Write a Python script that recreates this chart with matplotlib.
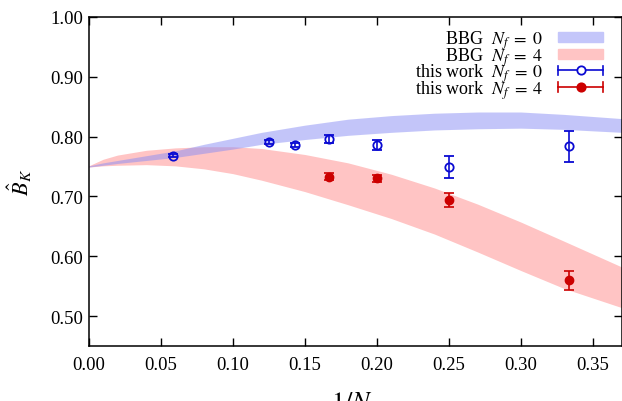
import matplotlib
matplotlib.use('Agg')
import matplotlib.pyplot as plt
from matplotlib.legend_handler import HandlerBase
from matplotlib.lines import Line2D
from matplotlib.patches import Patch

# BBG bands: x, lower, upper
band_x = [0.00, 0.01, 0.02, 0.04, 0.06, 0.08, 0.10, 0.12, 0.15, 0.18, 0.21, 0.24, 0.27, 0.30, 0.33, 0.37]
nf0_lo = [0.749, 0.752, 0.755, 0.760, 0.765, 0.772, 0.779, 0.787, 0.795, 0.802, 0.807, 0.811, 0.813, 0.814, 0.812, 0.807]
nf0_hi = [0.751, 0.756, 0.760, 0.768, 0.776, 0.787, 0.797, 0.807, 0.819, 0.829, 0.835, 0.839, 0.841, 0.841, 0.837, 0.830]
nf4_lo = [0.749, 0.751, 0.752, 0.753, 0.751, 0.746, 0.738, 0.727, 0.708, 0.686, 0.663, 0.637, 0.607, 0.576, 0.546, 0.514]
nf4_hi = [0.751, 0.762, 0.769, 0.777, 0.781, 0.783, 0.783, 0.780, 0.770, 0.756, 0.737, 0.714, 0.687, 0.657, 0.625, 0.582]

# this work, N_f = 0
x_nf0 = [1/17, 1/8, 1/7, 1/6, 1/5, 1/4, 1/3]
y_nf0 = [0.768, 0.791, 0.786, 0.796, 0.786, 0.749, 0.784]
e_nf0 = [0.003, 0.004, 0.004, 0.006, 0.008, 0.018, 0.026]

# this work, N_f = 4
x_nf4 = [1/6, 1/5, 1/4, 1/3]
y_nf4 = [0.733, 0.730, 0.694, 0.560]
e_nf4 = [0.006, 0.006, 0.012, 0.016]

xticks = [0.00, 0.05, 0.10, 0.15, 0.20, 0.25, 0.30, 0.35]
yticks = [0.50, 0.60, 0.70, 0.80, 0.90, 1.00]

BLUE = '#0a0ad2'
RED = '#cc0000'
BAND_BLUE = '#898df5'   # drawn at alpha 0.5 -> looks like #c4c6fa on white
BAND_RED = '#ffc4c4'


class ErrBarHandler(HandlerBase):
    """gnuplot-like key: horizontal bar with end caps and the marker in the middle"""
    def __init__(self, color, filled):
        super().__init__()
        self.color = color
        self.filled = filled

    def create_artists(self, legend, orig_handle, xdescent, ydescent,
                       width, height, fontsize, trans):
        yc = height / 2 - ydescent
        x0, x1 = -xdescent, width - xdescent
        cap = 3.5
        arts = [
            Line2D([x0, x1], [yc, yc], color=self.color, lw=1.2),
            Line2D([x0, x0], [yc - cap, yc + cap], color=self.color, lw=1.2),
            Line2D([x1, x1], [yc - cap, yc + cap], color=self.color, lw=1.2),
            Line2D([(x0 + x1) / 2], [yc], marker='o', ms=6, color=self.color,
                   mfc=self.color if self.filled else 'white', mew=1.3),
        ]
        for a in arts:
            a.set_transform(trans)
        return arts


plt.rcParams['font.family'] = ['Liberation Serif', 'DejaVu Serif']
plt.rcParams['mathtext.fontset'] = 'stix'

fig = plt.figure(figsize=(6.22, 4.02), dpi=100)
ax = fig.add_axes([0.1426, 0.137, 0.857, 0.8185])

ax.fill_between(band_x, nf4_lo, nf4_hi, color=BAND_RED, lw=0, zorder=1)
ax.fill_between(band_x, nf0_lo, nf0_hi, color=BAND_BLUE, alpha=0.5, lw=0, zorder=2)

ax.errorbar(x_nf0, y_nf0, yerr=e_nf0, fmt='o', color=BLUE, mfc='none', ms=6, mew=1.3,
            elinewidth=1.2, capsize=3.5, capthick=1.2, zorder=4)
ax.errorbar(x_nf4, y_nf4, yerr=e_nf4, fmt='o', color=RED, ms=6,
            elinewidth=1.2, capsize=3.5, capthick=1.2, zorder=4)

ax.set_xlim(0.0, 0.37)
ax.set_ylim(0.45, 1.00)
ax.set_xticks(xticks)
ax.set_yticks(yticks)
ax.set_xticklabels([f'{t:.2f}' for t in xticks])
ax.set_yticklabels([f'{t:.2f}' for t in yticks])
ax.tick_params(direction='in', length=6, width=1, top=True, right=True, labelsize=13.5)
ax.tick_params(axis='x', pad=7)
ax.tick_params(axis='y', pad=4)
for s in ax.spines.values():
    s.set_linewidth(1.1)

ax.set_xlabel(r'$1/N_c$', fontsize=19, labelpad=12)
ax.set_ylabel(r'$\hat{B}_K$', fontsize=16, labelpad=12)

h_b0 = Patch(color='#c4c6fa')
h_b4 = Patch(color=BAND_RED)
h_w0 = Line2D([], [])
h_w4 = Line2D([], [])
ax.legend([h_b0, h_b4, h_w0, h_w4],
          [r'BBG  $N_f\;=\;0$', r'BBG  $N_f\;=\;4$',
           r'this work  $N_f\;=\;0$', r'this work  $N_f\;=\;4$'],
          handler_map={h_w0: ErrBarHandler(BLUE, False), h_w4: ErrBarHandler(RED, True)},
          loc='upper right', frameon=False, markerfirst=False, fontsize=13,
          labelspacing=-0.33, handlelength=2.5, handleheight=0.5, handletextpad=0.85,
          borderpad=0, borderaxespad=0, bbox_to_anchor=(0.965, 0.965))

fig.savefig('out.png', dpi=100)
